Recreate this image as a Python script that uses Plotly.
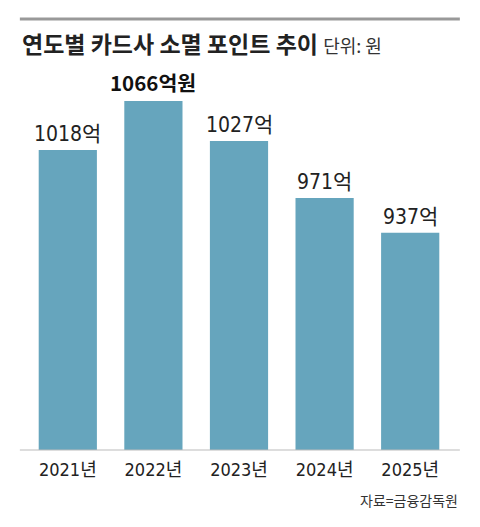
import plotly.graph_objects as go

years = ["2021년", "2022년", "2023년", "2024년", "2025년"]
values = [1018, 1066, 1027, 971, 937]
labels = ["1018억", "<b>1066억원</b>", "1027억", "971억", "937억"]
highlight = [False, True, False, False, False]

NARROW = "DejaVu Sans Condensed, Noto Sans CJK KR, sans-serif"
KR = "Noto Sans CJK KR, sans-serif"

fig = go.Figure()
fig.add_trace(go.Bar(
    x=years, y=values,
    marker=dict(color="#66a5bd", line=dict(width=0)),
    hoverinfo="skip",
))

for x, v, t, h in zip(years, values, labels, highlight):
    fig.add_annotation(x=x, y=v, text=t, showarrow=False, yanchor="bottom",
                       yshift=2,
                       font=dict(family=KR if h else NARROW, size=20.5 if h else 21,
                                 color="#111111" if h else "#222222"))

fig.update_layout(
    width=480, height=527,
    margin=dict(l=25, r=27, t=70, b=77),
    paper_bgcolor="white", plot_bgcolor="white",
    bargap=0.32,
    showlegend=False,
    xaxis=dict(showgrid=False, showline=False, ticks="", zeroline=False,
               ticklabelstandoff=7,
               tickfont=dict(family=NARROW, size=18, color="#222222")),
    yaxis=dict(range=[724, 1096.5], visible=False, showgrid=False, zeroline=False),
    shapes=[
        dict(type="line", xref="paper", yref="paper", x0=-0.012, x1=1.016, y0=1.134, y1=1.134,
             line=dict(color="#999999", width=3)),
        dict(type="line", xref="paper", yref="paper", x0=-0.012, x1=1.016, y0=0, y1=0,
             line=dict(color="#bbbbbb", width=1)),
    ],
    annotations=list(fig.layout.annotations) + [
        dict(xref="paper", yref="paper", x=-0.012, y=1.071, xanchor="left", yanchor="middle",
             showarrow=False,
             text="<b>연도별 카드사 소멸 포인트 추이</b> <span style='font-size:18px;color:#333333'>단위: 원</span>",
             font=dict(family=KR, size=23, color="#222222")),
        dict(xref="paper", yref="paper", x=1.016, y=-0.132, xanchor="right", yanchor="middle",
             showarrow=False, text="자료=금융감독원",
             font=dict(family=KR, size=14, color="#333333")),
    ],
)

fig.write_html("out.html")
